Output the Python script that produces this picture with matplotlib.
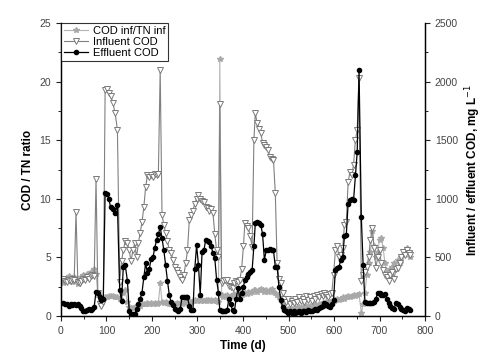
import matplotlib
matplotlib.use("Agg")
import matplotlib.pyplot as plt
from matplotlib.ticker import MultipleLocator

plt.rcParams['font.family'] = ['Liberation Sans', 'DejaVu Sans']

days = [5, 9, 13, 17, 21, 25, 29, 33, 37, 41, 45, 49, 53, 57, 61, 65, 69, 73, 77, 81,
        85, 89, 93, 97, 101, 105, 109, 114, 119, 124, 129, 133, 137, 141, 146, 150, 154, 158, 162, 166,
        170, 174, 178, 182, 186, 190, 194, 198, 202, 206, 210, 214, 218, 222, 226, 230, 234, 238, 242, 246,
        250, 254, 258, 262, 266, 270, 274, 278, 282, 286, 290, 294, 298, 302, 306, 310, 314, 318, 322, 326,
        330, 334, 338, 342, 346, 349, 353, 357, 361, 365, 369, 373, 377, 381, 385, 389, 393, 397, 401, 404,
        408, 412, 416, 420, 424, 427, 431, 435, 439, 443, 447, 451, 455, 459, 463, 467, 471, 475, 479, 483,
        487, 491, 495, 499, 503, 507, 511, 515, 519, 523, 527, 531, 535, 539, 543, 547, 551, 555, 559, 563,
        567, 571, 575, 579, 583, 587, 591, 595, 599, 603, 607, 611, 615, 619, 623, 627, 631, 635, 639, 643,
        647, 651, 655, 660, 664, 668, 672, 676, 680, 684, 688, 692, 696, 700, 704, 708, 712, 716, 720, 724,
        728, 732, 736, 740, 744, 748, 752, 756, 760, 764, 768]

influent_cod = [320, 300, 290, 310, 300, 320, 310, 890, 290, 280, 300, 320, 310, 330, 320, 340, 350, 340, 1170, 200,
                100, 90, 120, 1930, 1940, 1900, 1880, 1820, 1730, 1590, 290, 470, 560, 640, 620, 560, 470, 560, 620, 500,
                620, 710, 800, 930, 1100, 1200, 1190, 1200, 1190, 1210, 1200, 1210, 2100, 860, 780, 710, 640, 560, 540, 480,
                420, 390, 370, 330, 310, 350, 450, 560, 820, 860, 900, 960, 1000, 1030, 1000, 980, 970, 930, 920, 900,
                910, 880, 700, 560, 500, 1810, 280, 300, 310, 310, 260, 250, 240, 280, 300, 290, 310, 400, 600, 790,
                770, 750, 680, 590, 1500, 1730, 1650, 1600, 1560, 1480, 1460, 1440, 1420, 1360, 1340, 1330, 1050, 450, 320, 280,
                200, 150, 120, 150, 100, 130, 110, 150, 120, 160, 130, 150, 120, 170, 140, 160, 130, 170, 150, 180,
                160, 190, 170, 200, 180, 160, 190, 200, 350, 560, 600, 500, 520, 580, 780, 800, 1140, 1230, 1200, 1290,
                1500, 1590, 2030, 300, 350, 375, 420, 500, 650, 750, 580, 410, 500, 560, 450, 390, 350, 330, 300, 350,
                380, 320, 400, 410, 450, 500, 545, 520, 560, 540, 520]

effluent_cod = [110, 100, 105, 90, 100, 95, 100, 95, 100, 90, 70, 45, 40, 55, 60, 55, 60, 80, 210, 200,
                160, 140, 150, 1050, 1040, 1000, 930, 910, 880, 950, 220, 130, 420, 440, 300, 40, 10, 15, 20, 60,
                100, 150, 200, 330, 450, 365, 400, 490, 500, 580, 650, 700, 760, 665, 560, 435, 300, 180, 120, 95,
                60, 50, 40, 60, 160, 160, 160, 160, 90, 50, 50, 400, 605, 440, 180, 545, 560, 650, 640, 630,
                600, 535, 495, 310, 200, 50, 40, 45, 40, 50, 150, 100, 50, 40, 150, 240, 150, 200, 250, 310,
                330, 360, 380, 390, 600, 790, 800, 790, 780, 700, 480, 560, 565, 570, 565, 560, 420, 420, 250, 135,
                80, 50, 40, 30, 40, 25, 40, 30, 35, 40, 30, 45, 40, 35, 50, 40, 45, 50, 60, 55,
                70, 80, 90, 110, 100, 90, 80, 100, 140, 390, 410, 420, 480, 505, 680, 690, 960, 990, 1000, 990,
                1200, 1400, 2100, 845, 435, 120, 110, 110, 110, 110, 120, 150, 200, 200, 180, 180, 190, 150, 110, 90,
                70, 60, 110, 100, 80, 60, 50, 40, 70, 60, 50]

cod_tn_ratio = [2.8, 3.2, 3.0, 3.4, 3.1, 2.9, 3.3, 3.0, 2.7, 3.2, 3.3, 3.5, 3.4, 3.6, 3.5, 3.8, 3.7, 4.0, 3.6, 1.8,
                1.2, 1.0, 1.4, 1.6, 1.6, 1.7, 1.7, 1.7, 1.6, 1.6, 1.5, 2.0, 2.1, 2.2, 1.2, 0.8, 0.7, 0.7, 0.8, 0.8,
                0.9, 0.9, 1.0, 1.0, 1.0, 1.1, 1.0, 1.1, 1.0, 1.1, 1.0, 1.1, 2.8, 1.2, 1.1, 1.2, 1.1, 1.0, 1.0, 1.0,
                1.0, 1.1, 1.0, 1.1, 1.0, 1.1, 1.2, 1.2, 1.3, 1.2, 1.3, 1.4, 1.3, 1.4, 1.3, 1.4, 1.3, 1.4, 1.4, 1.3,
                1.4, 1.3, 1.4, 1.3, 1.2, 21.9, 1.8, 1.6, 1.7, 1.8, 1.6, 1.7, 1.8, 1.9, 1.7, 1.8, 1.9, 1.8, 2.0, 2.0,
                1.9, 2.1, 2.0, 2.1, 2.2, 2.2, 2.1, 2.2, 2.3, 2.2, 2.1, 2.2, 2.1, 2.2, 2.3, 2.1, 2.0, 1.8, 1.6, 1.4,
                1.0, 0.7, 0.5, 0.6, 0.5, 0.6, 0.5, 0.7, 0.6, 0.8, 0.7, 0.8, 0.7, 0.9, 0.8, 0.9, 0.8, 0.9, 1.0, 0.9,
                1.0, 1.0, 1.1, 1.0, 1.2, 1.1, 1.2, 1.3, 1.3, 1.4, 1.5, 1.4, 1.5, 1.6, 1.5, 1.6, 1.7, 1.6, 1.7, 1.8,
                1.7, 1.8, 1.9, 0.3, 1.0, 2.0, 3.5, 4.5, 5.5, 7.3, 6.0, 5.0, 5.5, 6.5, 6.7, 5.8, 4.5, 3.8, 3.5, 4.0,
                4.2, 4.5, 4.0, 4.8, 4.5, 5.0, 5.2, 5.5, 5.8, 5.5, 5.0]

fig = plt.figure(figsize=(4.86, 3.54), dpi=100)
ax = fig.add_axes([0.1255, 0.107, 0.749, 0.828])
ax2 = ax.twinx()

l1, = ax.plot(days, cod_tn_ratio, color='#b4b4b4', lw=0.8, marker='*', ms=4.2,
              mfc='#a8a8a8', mec='#a8a8a8', label='COD inf/TN inf')
l2, = ax2.plot(days, influent_cod, color='#808080', lw=0.8, marker='v', ms=4.2,
               mfc='white', mec='#7a7a7a', mew=0.7, label='Influent COD')
l3, = ax2.plot(days, effluent_cod, color='black', lw=0.9, marker='o', ms=3.0,
               mfc='black', mec='black', label='Effluent COD')

ax.set_xlim(0, 800)
ax.set_ylim(0, 25)
ax2.set_ylim(0, 2500)
ax.xaxis.set_major_locator(MultipleLocator(100))
ax.xaxis.set_minor_locator(MultipleLocator(50))
ax.yaxis.set_major_locator(MultipleLocator(5))
ax.yaxis.set_minor_locator(MultipleLocator(2.5))
ax2.yaxis.set_major_locator(MultipleLocator(500))
ax2.yaxis.set_minor_locator(MultipleLocator(250))

for a in (ax, ax2):
    a.tick_params(which='major', direction='out', length=3.5, width=0.8, labelsize=7.5,
                  colors='#222222', labelcolor='#444444')
    a.tick_params(which='minor', direction='out', length=2, width=0.6)
    for s in a.spines.values():
        s.set_linewidth(0.9)
ax.spines['top'].set_visible(False)
ax2.spines['top'].set_visible(False)

ax.set_xlabel('Time (d)', fontsize=8.5, fontweight='bold', labelpad=3)
ax.set_ylabel('COD / TN ratio', fontsize=8.5, fontweight='bold', labelpad=4)
ax2.set_ylabel('Influent / effluent COD, mg L$^{-1}$', fontsize=8.5, fontweight='bold', labelpad=4)

leg = ax2.legend(handles=[l1, l2, l3], loc='upper left', fontsize=8, frameon=True,
                 fancybox=False, edgecolor='black', borderpad=0.25, labelspacing=0.1,
                 handlelength=2.2, handletextpad=0.4, borderaxespad=0.0)
leg.get_frame().set_linewidth(0.8)

fig.savefig('out.png', dpi=100)
